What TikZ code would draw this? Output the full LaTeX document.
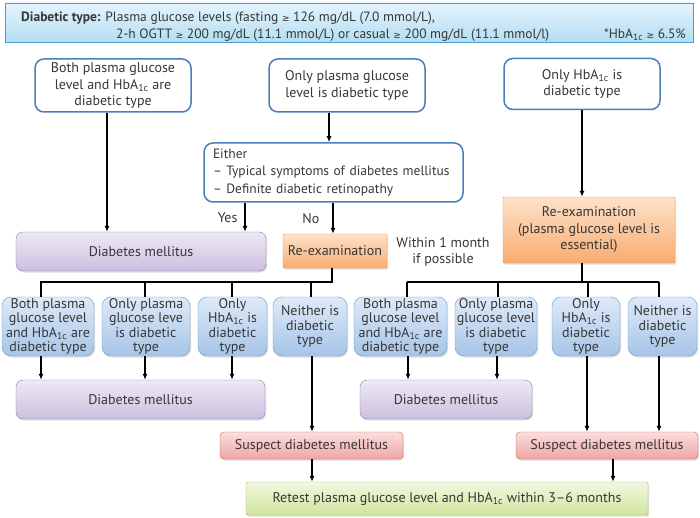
\documentclass[tikz,border=0pt]{standalone}
\usepackage{fontspec}
\setmainfont{PT Sans}
\newfontfamily\symfont{DejaVu Sans}
\usepackage{tikz}
\usetikzlibrary{arrows.meta,positioning,calc,shadows}
\usepackage{xcolor}

\definecolor{bannerline}{RGB}{75,160,200}
\definecolor{bannertop}{RGB}{228,244,252}
\definecolor{bannerbot}{RGB}{180,222,242}
\definecolor{topline}{RGB}{74,126,187}
\definecolor{bluetop}{RGB}{222,234,248}
\definecolor{bluebot}{RGB}{166,196,232}
\definecolor{blueline}{RGB}{112,150,200}
\definecolor{purptop}{RGB}{238,233,245}
\definecolor{purpbot}{RGB}{204,191,222}
\definecolor{purpline}{RGB}{140,122,176}
\definecolor{orgtop}{RGB}{253,226,202}
\definecolor{orgbot}{RGB}{249,172,112}
\definecolor{orgline}{RGB}{240,150,80}
\definecolor{pinktop}{RGB}{251,222,222}
\definecolor{pinkbot}{RGB}{238,166,164}
\definecolor{pinkline}{RGB}{200,96,94}
\definecolor{greentop}{RGB}{242,248,224}
\definecolor{greenbot}{RGB}{208,229,158}
\definecolor{greenline}{RGB}{160,190,96}
\definecolor{txt}{RGB}{55,55,55}

\newcommand{\hba}{HbA\textsubscript{1c}}
\newcommand{\gesym}{{\symfont\small\char"2265}}

\begin{document}
\begin{tikzpicture}[x=1pt,y=-1pt,>=Latex,
  base/.style={align=center,inner sep=1pt,text=txt,font=\fontsize{14}{16.5}\selectfont},
  shade/.style={drop shadow={shadow xshift=1.2pt,shadow yshift=-1.5pt,opacity=0.25}},
  topbox/.style={base,draw=topline,line width=1.5pt,rounded corners=9pt,fill=white},
  dmbox/.style={base,shade,draw=purpline,top color=purptop,bottom color=purpbot,rounded corners=7pt},
  reexbox/.style={base,shade,draw=orgline,top color=orgtop,bottom color=orgbot,rounded corners=1pt},
  resultbox/.style={base,shade,draw=blueline,top color=bluetop,bottom color=bluebot,rounded corners=9pt,
    font=\fontsize{14}{14.5}\selectfont,minimum height=59pt},
  suspbox/.style={base,shade,draw=pinkline,top color=pinktop,bottom color=pinkbot,rounded corners=4pt},
  retestbox/.style={base,shade,draw=greenline,top color=greentop,bottom color=greenbot,rounded corners=1.5pt},
  bannertext/.style={inner sep=0pt,text=txt,font=\fontsize{13.5}{16}\selectfont},
  link/.style={line width=1.2pt,-{Latex[length=6pt,width=5pt]}},
  bus/.style={line width=1.2pt}]
\useasboundingbox (0,0) rectangle (700,518);

% banner
\node[shade,draw=bannerline,top color=bannertop,bottom color=bannerbot,
  minimum width=688pt,minimum height=39pt,inner sep=0pt] (banner) at (349,22.5) {};
\node[bannertext,anchor=base west] (defa) at (21,21.5)
  {\textbf{Diabetic type:} Plasma glucose levels (fasting \gesym{} 126 mg/dL (7.0 mmol/L),};
\node[bannertext,anchor=base west] (defb) at (116,38.5)
  {2-h OGTT \gesym{} 200 mg/dL (11.1 mmol/L) or casual \gesym{} 200 mg/dL (11.1 mmol/l)};
\node[bannertext,anchor=base east] (defc) at (686,38.5)
  {*\hba{} \gesym{} 6.5\%};

% first tests
\node[topbox,minimum width=156pt,minimum height=53pt] (both) at (113,85.5)
  {Both plasma glucose\\level and \hba{} are\\diabetic type};
\node[topbox,minimum width=156pt,minimum height=53pt] (onlypg) at (347,85.5)
  {Only plasma glucose\\level is diabetic type};
\node[topbox,minimum width=156pt,minimum height=51pt] (onlya) at (582,84)
  {Only \hba{} is\\diabetic type};
\node[topbox,font=\fontsize{13.5}{17.5}\selectfont,align=left,text width=241pt,inner xsep=9pt,
  minimum height=59pt] (either) at (333.5,172.5)
  {Either\\-- Typical symptoms of diabetes mellitus\\-- Definite diabetic retinopathy};

% outcomes of first tests
\node[dmbox,minimum width=250pt,minimum height=39pt] (dm1) at (141,251.5) {Diabetes mellitus};
\node[reexbox,minimum width=104pt,minimum height=34pt] (reex1) at (335,251) {Re-examination};
\node[base] (month) at (443,252) {Within 1 month\\if possible};
\node[reexbox,minimum width=172pt,minimum height=66pt] (reex2) at (589,230)
  {Re-examination\\(plasma glucose level is\\essential)};

% results of re-examination
\node[resultbox,minimum width=92pt] (lboth) at (48,326.5)
  {Both plasma\\glucose level\\and \hba{} are\\diabetic type};
\node[resultbox,minimum width=88pt] (lpg) at (146,326.5)
  {Only plasma\\glucose leve\\is diabetic\\type};
\node[resultbox,minimum width=69pt] (la) at (232.5,326.5)
  {Only\\\hba{} is\\diabetic\\type};
\node[resultbox,minimum width=74pt] (lnone) at (310,326.5)
  {Neither is\\diabetic\\type};
\node[resultbox,minimum width=93pt] (rboth) at (400.5,326.5)
  {Both plasma\\glucose level\\and \hba{} are\\diabetic type};
\node[resultbox,minimum width=82pt] (rpg) at (496,326.5)
  {Only plasma\\glucose level\\is diabetic\\type};
\node[resultbox,minimum width=68pt] (ra) at (586,326.5)
  {Only\\\hba{} is\\diabetic\\type};
\node[resultbox,minimum width=69pt] (rnone) at (662.5,326.5)
  {Neither is\\diabetic\\type};

% final outcomes
\node[dmbox,minimum width=249pt,minimum height=39pt] (dm2) at (140.5,399.5) {Diabetes mellitus};
\node[dmbox,minimum width=172pt,minimum height=39pt] (dm3) at (446,399.5) {Diabetes mellitus};
\node[suspbox,minimum width=183pt,minimum height=27pt] (susp1) at (311.5,445.5) {Suspect diabetes mellitus};
\node[suspbox,minimum width=182pt,minimum height=27pt] (susp2) at (607,445.5) {Suspect diabetes mellitus};
\node[retestbox,minimum width=402pt,minimum height=33pt] (retest) at (447,498.5)
  {Retest plasma glucose level and \hba{} within 3--6 months};

% arrows
\draw[link] (both.south -| 107,0) -- (dm1.north -| 107,0);
\draw[link] (onlypg.south -| 329,0) -- (either.north -| 329,0);
\draw[link] (either.south -| 245,0) -- (dm1.north -| 245,0)
  node[base,midway,left=6pt] (yes) {Yes};
\draw[link] (either.south -| 333,0) -- (reex1.north -| 333,0)
  node[base,midway,left=12pt] (no) {No};
\draw[link] (onlya.south) -- (onlya.south |- reex2.north);

% branches
\coordinate (lbus) at (332,282);
\coordinate (rbus) at (582,282);
\draw[bus] (reex1.south -| lbus) -- (lbus) -- (lbus -| 41,0) -- (lboth.north -| 41,0);
\foreach \b/\x in {lpg/145,la/232,lnone/311}
  \draw[bus] (lbus -| \x,0) -- (\b.north -| \x,0);
\draw[bus] (reex2.south -| rbus) -- (rbus) (rbus -| 407,0) -- (rbus -| 659,0);
\foreach \b/\x in {rboth/407,rpg/498,ra/588,rnone/659}
  \draw[bus] (rbus -| \x,0) -- (\b.north -| \x,0);

\foreach \a/\b/\x in {lboth/dm2/41,lpg/dm2/145,la/dm2/232,lnone/susp1/312,
    rboth/dm3/408,rpg/dm3/497,ra/susp2/587,rnone/susp2/659,susp1/retest/312,susp2/retest/613}
  \draw[link] (\a.south -| \x,0) -- (\b.north -| \x,0);
\end{tikzpicture}
\end{document}
